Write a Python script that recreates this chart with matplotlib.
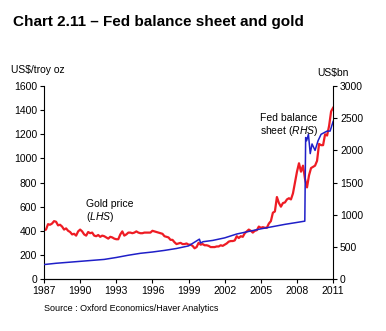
import numpy as np
import matplotlib.pyplot as plt

plt.rcParams['font.family'] = ['Liberation Sans', 'DejaVu Sans']
plt.rcParams['mathtext.fontset'] = 'custom'
plt.rcParams['mathtext.rm'] = 'Liberation Sans'
plt.rcParams['mathtext.it'] = 'Liberation Sans:italic'

# gold price, US$/troy oz, bi-monthly from Jan 1987
gold_years = 1987 + np.arange(0, 145) / 6.0
gold_price = [
    405, 410, 455, 450, 460, 480,
    475, 445, 450, 435, 410, 420,
    400, 390, 370, 375, 360, 395,
    410, 395, 370, 360, 390, 380,
    385, 360, 355, 365, 350, 360,
    355, 345, 335, 350, 345, 335,
    330, 330, 370, 395, 360, 370,
    385, 385, 380, 385, 395, 385,
    380, 380, 385, 385, 385, 385,
    400, 395, 390, 385, 380, 375,
    355, 350, 345, 325, 325, 305,
    290, 295, 300, 290, 290, 295,
    285, 285, 275, 255, 265, 300,
    285, 290, 280, 280, 275, 265,
    265, 265, 270, 270, 280, 275,
    285, 295, 310, 315, 315, 320,
    355, 340, 355, 350, 380, 395,
    410, 400, 385, 400, 405, 435,
    425, 430, 425, 425, 460, 480,
    550, 560, 680, 630, 600, 630,
    635, 660, 670, 660, 710, 800,
    890, 960, 890, 940, 830, 760,
    860, 920, 930, 940, 980, 1120,
    1110, 1110, 1200, 1190, 1270, 1390,
    1420,
]

# Fed balance sheet, US$bn
fed_years = [1987, 1988, 1989, 1990, 1991, 1992, 1993, 1994, 1995, 1996,
             1997, 1998, 1999, 1999.9, 2000.0, 2000.2, 2001, 2002, 2003,
             2004, 2005, 2006, 2007, 2008, 2008.65, 2008.72, 2008.8,
             2008.95, 2009.1, 2009.25, 2009.5, 2009.75, 2010, 2010.5,
             2010.75, 2011]
fed_bn = [225, 245, 260, 275, 290, 305, 335, 370, 400, 420,
          445, 475, 515, 620, 560, 580, 600, 640, 700,
          740, 780, 815, 850, 880, 900, 2200, 2150,
          2250, 1950, 2100, 2000, 2150, 2250, 2300,
          2300, 2450]

year_ticks = list(range(1987, 2012, 3))

fig = plt.figure(figsize=(3.86, 3.31), dpi=100)
ax = fig.add_axes([0.114, 0.157, 0.749, 0.583])
ax2 = ax.twinx()

ax.plot(gold_years, gold_price, color='#ee1c24', lw=1.6)
ax2.plot(fed_years, fed_bn, color='#1f1fc8', lw=1.1)

ax.set_xlim(1987, 2011)
ax.set_ylim(0, 1600)
ax.set_yticks(range(0, 1601, 200))
ax2.set_ylim(0, 3000)
ax2.set_yticks(range(0, 3001, 500))
ax.set_xticks(year_ticks)

for a in (ax, ax2):
    a.spines['top'].set_visible(False)
    a.tick_params(labelsize=7.5, length=3, width=0.8, pad=2)
ax.spines['right'].set_visible(False)
ax2.spines['left'].set_visible(False)

fig.text(0.034, 0.933, 'Chart 2.11 \u2013 Fed balance sheet and gold',
         fontsize=11, fontweight='bold', va='center')
fig.text(0.028, 0.79, 'US$/troy oz', fontsize=7.5, va='center')
fig.text(0.823, 0.78, 'US$bn', fontsize=7.5, va='center')
ax.text(1990.5, 560, 'Gold price\n($\\it{LHS}$)', fontsize=7.5,
        va='center', linespacing=1.1)
ax2.text(2004.9, 2380, 'Fed balance\nsheet ($\\it{RHS}$)', fontsize=7.5,
         va='center', linespacing=1.1)
fig.text(0.114, 0.068, 'Source : Oxford Economics/Haver Analytics',
         fontsize=6.5, va='center')

fig.savefig('out.png', dpi=100)
